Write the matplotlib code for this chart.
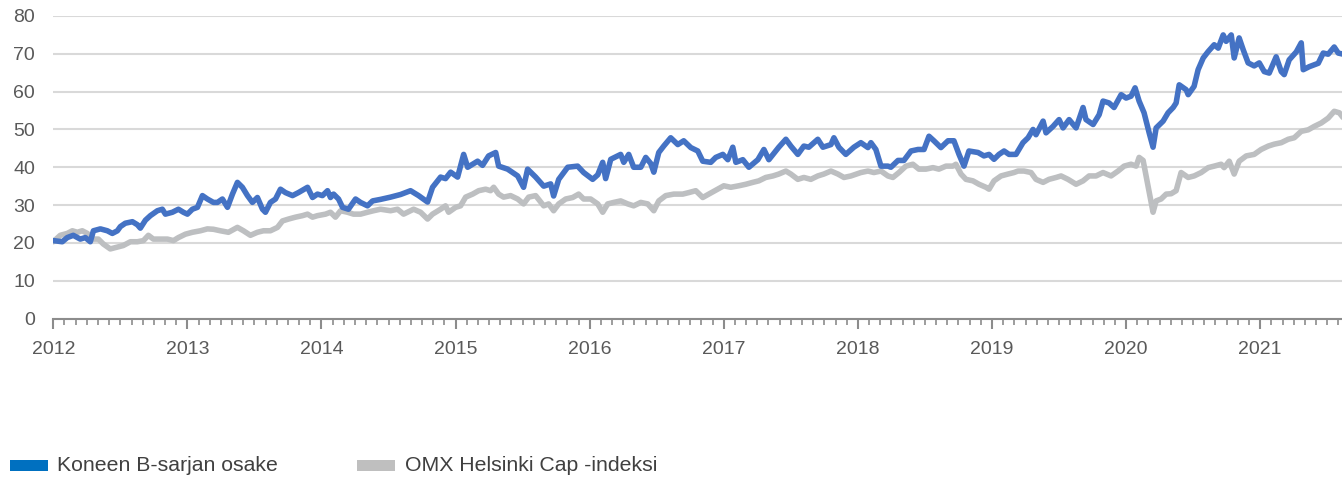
import matplotlib
matplotlib.use("Agg")
import matplotlib.pyplot as plt
from matplotlib.patches import Rectangle
from matplotlib.ticker import MultipleLocator
import numpy as np

plt.rcParams['font.family'] = ['Liberation Sans', 'DejaVu Sans']

# ---- data (fractional years, values) ----
kone_t = [2012.000, 2012.067, 2012.104, 2012.149, 2012.201, 2012.239, 2012.276, 2012.299, 2012.351, 2012.403,
          2012.440, 2012.478, 2012.500, 2012.537, 2012.590, 2012.627, 2012.649, 2012.687, 2012.724, 2012.776,
          2012.813, 2012.836, 2012.888, 2012.933, 2012.970, 2013.000, 2013.037, 2013.075, 2013.112, 2013.149,
          2013.194, 2013.224, 2013.261, 2013.299, 2013.336, 2013.373, 2013.410, 2013.448, 2013.485, 2013.522,
          2013.560, 2013.582, 2013.619, 2013.657, 2013.694, 2013.731, 2013.784, 2013.828, 2013.896, 2013.933,
          2013.970, 2014.007, 2014.045, 2014.067, 2014.090, 2014.127, 2014.157, 2014.201, 2014.254, 2014.291,
          2014.343, 2014.381, 2014.440, 2014.515, 2014.590, 2014.664, 2014.724, 2014.791, 2014.828, 2014.888,
          2014.925, 2014.963, 2015.015, 2015.060, 2015.090, 2015.164, 2015.201, 2015.246, 2015.299, 2015.321,
          2015.388, 2015.463, 2015.507, 2015.537, 2015.597, 2015.657, 2015.709, 2015.731, 2015.769, 2015.836,
          2015.910, 2015.955, 2016.022, 2016.060, 2016.097, 2016.119, 2016.157, 2016.231, 2016.254, 2016.291,
          2016.328, 2016.381, 2016.418, 2016.455, 2016.478, 2016.515, 2016.552, 2016.604, 2016.657, 2016.701,
          2016.754, 2016.806, 2016.843, 2016.903, 2016.940, 2016.993, 2017.030, 2017.067, 2017.090, 2017.142,
          2017.187, 2017.254, 2017.299, 2017.336, 2017.410, 2017.463, 2017.500, 2017.552, 2017.597, 2017.634,
          2017.701, 2017.739, 2017.799, 2017.821, 2017.858, 2017.910, 2017.970, 2018.022, 2018.075, 2018.097,
          2018.134, 2018.172, 2018.224, 2018.246, 2018.299, 2018.343, 2018.396, 2018.448, 2018.493, 2018.530,
          2018.567, 2018.619, 2018.672, 2018.716, 2018.754, 2018.791, 2018.828, 2018.896, 2018.940, 2018.978,
          2019.015, 2019.052, 2019.090, 2019.127, 2019.179, 2019.231, 2019.269, 2019.306, 2019.328, 2019.381,
          2019.403, 2019.455, 2019.500, 2019.530, 2019.575, 2019.627, 2019.679, 2019.701, 2019.754, 2019.799,
          2019.828, 2019.873, 2019.910, 2019.963, 2020.000, 2020.037, 2020.067, 2020.097, 2020.134, 2020.172,
          2020.201, 2020.224, 2020.276, 2020.313, 2020.351, 2020.373, 2020.396, 2020.448, 2020.463, 2020.507,
          2020.537, 2020.575, 2020.612, 2020.657, 2020.687, 2020.724, 2020.746, 2020.784, 2020.806, 2020.843,
          2020.873, 2020.910, 2020.955, 2020.993, 2021.030, 2021.067, 2021.119, 2021.157, 2021.179, 2021.216,
          2021.269, 2021.306, 2021.321, 2021.366, 2021.433, 2021.470, 2021.507, 2021.552, 2021.582, 2021.619]
kone_v = [20.6, 20.3, 21.4, 22.0, 21.0, 21.4, 20.3, 23.2, 23.7, 23.2,
          22.5, 23.2, 24.3, 25.2, 25.6, 24.8, 23.9, 26.0, 27.2, 28.5,
          28.9, 27.6, 28.1, 28.9, 28.1, 27.6, 28.9, 29.4, 32.5, 31.6,
          30.7, 30.7, 31.6, 29.4, 32.9, 36.0, 34.7, 32.5, 30.7, 32.0,
          28.9, 28.1, 30.7, 31.6, 34.2, 33.3, 32.5, 33.3, 34.7, 32.0,
          32.9, 32.5, 33.8, 32.0, 32.9, 31.6, 29.4, 28.9, 31.6, 30.7,
          29.8, 31.1, 31.5, 32.1, 32.8, 33.8, 32.5, 30.8, 34.7, 37.4,
          37.0, 38.7, 37.4, 43.4, 40.0, 41.6, 40.5, 43.0, 43.9, 40.3,
          39.5, 37.7, 34.7, 39.5, 37.4, 35.0, 35.6, 32.4, 36.8, 40.0,
          40.3, 38.6, 36.8, 38.0, 41.3, 37.0, 42.1, 43.4, 41.3, 43.4,
          40.0, 40.0, 42.6, 41.0, 38.7, 43.9, 45.6, 47.8, 46.0, 47.0,
          45.2, 44.3, 41.6, 41.3, 42.6, 43.4, 42.0, 45.3, 41.3, 42.0,
          40.0, 42.0, 44.7, 42.0, 45.3, 47.4, 45.6, 43.4, 45.6, 45.3,
          47.4, 45.3, 46.0, 47.8, 45.3, 43.4, 45.3, 46.5, 45.2, 46.5,
          44.7, 40.3, 40.3, 40.0, 41.8, 41.8, 44.3, 44.7, 44.7, 48.2,
          47.0, 45.2, 47.0, 47.0, 43.4, 40.3, 44.3, 43.9, 43.0, 43.4,
          42.1, 43.4, 44.3, 43.4, 43.4, 46.5, 47.8, 50.0, 48.6, 52.2,
          49.1, 50.8, 52.6, 50.4, 52.6, 50.4, 55.8, 52.6, 51.3, 53.9,
          57.5, 57.0, 55.8, 59.2, 58.3, 58.8, 61.0, 57.5, 54.4, 49.1,
          45.3, 50.4, 52.2, 54.4, 55.8, 57.0, 61.8, 60.5, 59.2, 61.4,
          65.8, 68.9, 70.6, 72.4, 71.5, 75.0, 73.3, 75.0, 68.9, 74.2,
          71.1, 67.6, 66.8, 67.6, 65.3, 64.9, 69.2, 65.3, 64.5, 68.4,
          70.5, 72.9, 65.8, 66.6, 67.5, 70.2, 69.9, 71.8, 70.2, 69.9]

omx_t = [2012.000, 2012.052, 2012.104, 2012.142, 2012.179, 2012.216, 2012.254, 2012.299, 2012.336, 2012.373,
         2012.425, 2012.478, 2012.522, 2012.575, 2012.627, 2012.672, 2012.709, 2012.746, 2012.799, 2012.851,
         2012.896, 2012.933, 2012.985, 2013.037, 2013.097, 2013.149, 2013.194, 2013.246, 2013.306, 2013.373,
         2013.418, 2013.470, 2013.522, 2013.567, 2013.619, 2013.672, 2013.709, 2013.754, 2013.806, 2013.858,
         2013.896, 2013.933, 2013.970, 2014.030, 2014.067, 2014.104, 2014.142, 2014.194, 2014.239, 2014.291,
         2014.343, 2014.388, 2014.440, 2014.515, 2014.567, 2014.612, 2014.687, 2014.739, 2014.791, 2014.828,
         2014.888, 2014.925, 2014.948, 2015.000, 2015.037, 2015.075, 2015.127, 2015.172, 2015.224, 2015.261,
         2015.284, 2015.321, 2015.358, 2015.410, 2015.463, 2015.507, 2015.545, 2015.597, 2015.657, 2015.694,
         2015.731, 2015.769, 2015.821, 2015.873, 2015.918, 2015.955, 2016.007, 2016.060, 2016.097, 2016.134,
         2016.179, 2016.231, 2016.284, 2016.328, 2016.381, 2016.433, 2016.478, 2016.515, 2016.567, 2016.627,
         2016.694, 2016.739, 2016.791, 2016.843, 2016.888, 2016.955, 2017.000, 2017.052, 2017.112, 2017.164,
         2017.216, 2017.261, 2017.313, 2017.366, 2017.410, 2017.463, 2017.500, 2017.552, 2017.597, 2017.649,
         2017.701, 2017.746, 2017.799, 2017.851, 2017.896, 2017.948, 2018.022, 2018.075, 2018.119, 2018.172,
         2018.224, 2018.261, 2018.306, 2018.358, 2018.410, 2018.455, 2018.507, 2018.560, 2018.604, 2018.657,
         2018.709, 2018.731, 2018.769, 2018.806, 2018.858, 2018.903, 2018.955, 2018.978, 2019.015, 2019.067,
         2019.119, 2019.164, 2019.194, 2019.239, 2019.291, 2019.328, 2019.381, 2019.425, 2019.478, 2019.515,
         2019.567, 2019.627, 2019.679, 2019.724, 2019.776, 2019.828, 2019.888, 2019.940, 2019.985, 2020.037,
         2020.075, 2020.097, 2020.127, 2020.149, 2020.172, 2020.201, 2020.224, 2020.261, 2020.299, 2020.336,
         2020.373, 2020.410, 2020.463, 2020.507, 2020.560, 2020.612, 2020.657, 2020.709, 2020.731, 2020.769,
         2020.806, 2020.843, 2020.896, 2020.955, 2021.007, 2021.060, 2021.104, 2021.157, 2021.209, 2021.254,
         2021.306, 2021.358, 2021.403, 2021.455, 2021.507, 2021.552, 2021.590, 2021.619]
omx_v = [20.3, 22.0, 22.5, 23.2, 22.8, 23.2, 22.5, 21.0, 21.0, 19.7,
         18.4, 18.9, 19.3, 20.3, 20.3, 20.6, 22.0, 21.0, 21.0, 21.0,
         20.6, 21.4, 22.3, 22.8, 23.2, 23.7, 23.6, 23.2, 22.8, 24.1,
         23.2, 22.0, 22.8, 23.2, 23.2, 24.1, 25.8, 26.3, 26.8, 27.2,
         27.6, 26.8, 27.2, 27.6, 28.1, 26.8, 28.5, 28.1, 27.6, 27.6,
         28.1, 28.5, 28.9, 28.5, 28.9, 27.6, 28.9, 28.1, 26.3, 27.6,
         28.9, 29.8, 28.1, 29.4, 29.8, 32.1, 32.9, 33.8, 34.2, 33.8,
         34.7, 32.9, 32.1, 32.5, 31.6, 30.3, 32.1, 32.5, 29.8, 30.3,
         28.5, 30.3, 31.6, 32.0, 32.9, 31.6, 31.6, 30.3, 28.1, 30.3,
         30.7, 31.1, 30.3, 29.8, 30.7, 30.3, 28.5, 31.1, 32.5, 32.9,
         32.9, 33.3, 33.8, 32.0, 32.9, 34.2, 35.1, 34.7, 35.1, 35.5,
         36.0, 36.4, 37.3, 37.7, 38.2, 39.0, 38.2, 36.8, 37.3, 36.8,
         37.7, 38.2, 39.0, 38.2, 37.3, 37.7, 38.6, 39.0, 38.6, 39.0,
         37.7, 37.3, 38.6, 40.3, 40.8, 39.5, 39.5, 39.9, 39.5, 40.3,
         40.3, 40.8, 38.2, 36.8, 36.4, 35.5, 34.7, 34.2, 36.4, 37.7,
         38.2, 38.6, 39.0, 39.0, 38.6, 36.8, 36.0, 36.8, 37.3, 37.7,
         36.8, 35.5, 36.4, 37.7, 37.7, 38.6, 37.7, 39.0, 40.3, 40.8,
         40.3, 42.6, 41.8, 37.7, 33.3, 28.1, 31.1, 31.6, 32.9, 33.0,
         33.8, 38.6, 37.3, 37.7, 38.6, 39.9, 40.3, 40.8, 39.9, 41.6,
         38.2, 41.6, 43.0, 43.4, 44.7, 45.6, 46.1, 46.5, 47.4, 47.8,
         49.5, 49.9, 50.8, 51.7, 53.0, 54.8, 54.4, 53.1]

year_ticks = list(range(2012, 2022))
y_ticks = [0, 10, 20, 30, 40, 50, 60, 70, 80]
series_names = ["Koneen B-sarjan osake", "OMX Helsinki Cap -indeksi"]

line_blue = "#4472C4"
legend_blue = "#0070C0"
gray = "#BDBFC1"
text_col = "#595959"

W, H = 1342, 480
fig = plt.figure(figsize=(W / 100, H / 100), dpi=100)
ax = fig.add_axes([53.3 / W, 1 - 318.5 / H, 1 - 53.3 / W, (318.5 - 16) / H])

ax.plot(omx_t, omx_v, color=gray, lw=4.0, solid_joinstyle='round', solid_capstyle='round', zorder=3)
ax.plot(kone_t, kone_v, color=line_blue, lw=4.0, solid_joinstyle='round', solid_capstyle='round', zorder=4)

ax.set_xlim(2012, 2021.61)
ax.set_ylim(0, 80)
ax.set_yticks(y_ticks)
ax.set_yticklabels([str(v) for v in y_ticks])
ax.set_xticks(year_ticks)
ax.set_xticklabels([str(y) for y in year_ticks])
ax.xaxis.set_minor_locator(MultipleLocator(1 / 12))

ax.grid(axis='y', color='#D9D9D9', lw=1.5, zorder=0)
ax.set_axisbelow(True)
for s in ['top', 'right', 'left']:
    ax.spines[s].set_visible(False)
ax.spines['bottom'].set_color('#8C8C8C')
ax.spines['bottom'].set_linewidth(1.5)
ax.spines['bottom'].set_zorder(5)

ax.tick_params(axis='y', length=0, pad=13, labelsize=14, labelcolor=text_col)
ax.tick_params(axis='x', which='major', length=7, width=1.5, color='#8C8C8C', pad=9,
               labelsize=14, labelcolor=text_col)
ax.tick_params(axis='x', which='minor', length=4.5, width=1.2, color='#8C8C8C')

# legend
fig.add_artist(Rectangle((10 / W, 1 - 471 / H), 38 / W, 11 / H, transform=fig.transFigure,
                         color=legend_blue, lw=0))
fig.text(57 / W, 1 - 465.5 / H, series_names[0], fontsize=15.3, color='#404040', va='center', ha='left')
fig.add_artist(Rectangle((357 / W, 1 - 471 / H), 38 / W, 11 / H, transform=fig.transFigure,
                         color='#BFBFBF', lw=0))
fig.text(405 / W, 1 - 465.5 / H, series_names[1], fontsize=15.3, color='#404040', va='center', ha='left')

fig.savefig("out.png", dpi=100)
